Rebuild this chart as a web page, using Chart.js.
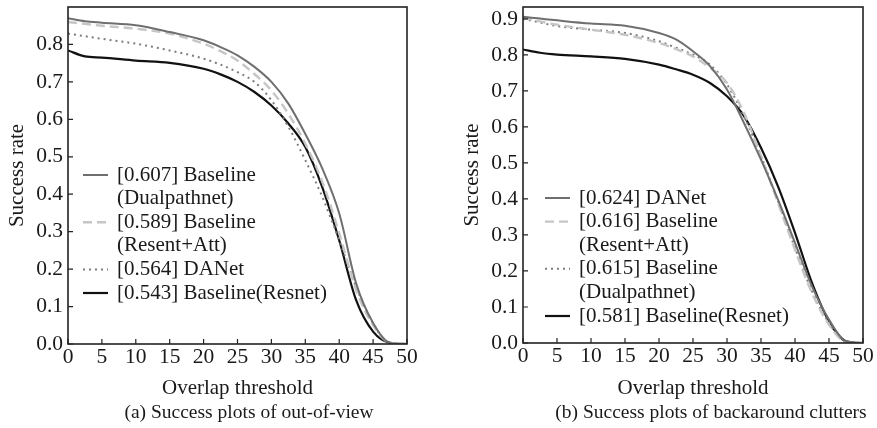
<!DOCTYPE html>
<html>
<head>
<meta charset="utf-8">
<script src="https://cdn.jsdelivr.net/npm/chart.js@4.4.0/dist/chart.umd.min.js"></script>
<style>
  body { margin: 0; background: #fff; }
  #wrap { position: relative; width: 877px; height: 428px; }
  .box { position: absolute; top: 0; height: 428px; }
</style>
</head>
<body>
<div id="wrap">
  <div class="box" style="left:0;width:440px"><canvas id="chartA"></canvas></div>
  <div class="box" style="left:440px;width:437px"><canvas id="chartB"></canvas></div>
</div>
<script>
// overlap thresholds (x axis)
var thresholds = [0, 2.5, 5, 10, 15, 20, 22.5, 25, 27.5, 30, 32.5, 35, 37.5, 40, 42.5, 45, 47.5, 50];
var xTicks = [0, 5, 10, 15, 20, 25, 30, 35, 40, 45, 50];
var yTicksA = [0, 0.1, 0.2, 0.3, 0.4, 0.5, 0.6, 0.7, 0.8];
var yTicksB = [0, 0.1, 0.2, 0.3, 0.4, 0.5, 0.6, 0.7, 0.8, 0.9];

// (a) out-of-view
var outDualpath = [0.870, 0.862, 0.858, 0.851, 0.833, 0.811, 0.793, 0.771, 0.740, 0.700, 0.642, 0.561, 0.469, 0.349, 0.162, 0.056, 0.003, 0];
var outResAtt   = [0.860, 0.855, 0.850, 0.842, 0.829, 0.802, 0.782, 0.757, 0.721, 0.677, 0.615, 0.535, 0.433, 0.296, 0.144, 0.050, 0.003, 0];
var outDANet    = [0.829, 0.822, 0.815, 0.802, 0.784, 0.762, 0.746, 0.726, 0.700, 0.651, 0.580, 0.491, 0.393, 0.277, 0.152, 0.055, 0.002, 0];
var outResnet   = [0.784, 0.768, 0.765, 0.757, 0.751, 0.735, 0.720, 0.700, 0.673, 0.637, 0.589, 0.526, 0.419, 0.277, 0.117, 0.033, 0.003, 0];

// (b) background clutters
var bgDANet     = [0.906, 0.901, 0.896, 0.887, 0.881, 0.861, 0.843, 0.810, 0.769, 0.704, 0.611, 0.509, 0.398, 0.278, 0.157, 0.065, 0.005, 0];
var bgResAtt    = [0.903, 0.893, 0.884, 0.870, 0.856, 0.833, 0.816, 0.796, 0.764, 0.722, 0.639, 0.519, 0.389, 0.259, 0.139, 0.051, 0.003, 0];
var bgDualpath  = [0.900, 0.890, 0.880, 0.870, 0.861, 0.838, 0.820, 0.801, 0.773, 0.718, 0.630, 0.519, 0.394, 0.264, 0.144, 0.056, 0.002, 0];
var bgResnet    = [0.815, 0.806, 0.801, 0.796, 0.789, 0.773, 0.760, 0.745, 0.722, 0.685, 0.630, 0.542, 0.435, 0.306, 0.167, 0.060, 0.005, 0];

var FONT = '"Liberation Serif", "Times New Roman", serif';
var INK = '#1a1a1a';

var styles = {
  solid:  { borderColor: '#6f6f6f', borderWidth: 2,   borderDash: [] },
  dashed: { borderColor: '#c6c6c6', borderWidth: 2.4, borderDash: [9, 5] },
  dotted: { borderColor: '#7c7c7c', borderWidth: 2,   borderDash: [2, 4] },
  black:  { borderColor: '#111111', borderWidth: 2.2, borderDash: [] }
};

function series(label, values, style) {
  var s = styles[style];
  return {
    label: label,
    data: thresholds.map(function(t, i) { return { x: t, y: values[i] }; }),
    borderColor: s.borderColor,
    borderWidth: s.borderWidth,
    borderDash: s.borderDash,
    pointRadius: 0,
    fill: false,
    cubicInterpolationMode: 'monotone'
  };
}

// frame, inward ticks, legend and caption
var paperFrame = {
  id: 'paperFrame',
  afterDraw: function(chart, args, opts) {
    var ctx = chart.ctx;
    var a = chart.chartArea;
    var xs = chart.scales.x, ys = chart.scales.y;
    ctx.save();
    ctx.strokeStyle = '#222';
    ctx.lineWidth = 1.6;
    ctx.strokeRect(a.left, a.top, a.right - a.left, a.bottom - a.top);
    ctx.lineWidth = 1.2;
    ctx.beginPath();
    xs.ticks.forEach(function(t) {
      var px = xs.getPixelForValue(t.value);
      ctx.moveTo(px, a.bottom);
      ctx.lineTo(px, a.bottom - 5);
    });
    ys.ticks.forEach(function(t) {
      var py = ys.getPixelForValue(t.value);
      ctx.moveTo(a.left, py);
      ctx.lineTo(a.left + 5, py);
    });
    ctx.stroke();

    ctx.font = '21px ' + FONT;
    ctx.textBaseline = 'middle';
    ctx.fillStyle = INK;
    var lx = a.left + opts.legendX;
    var y = opts.legendY;
    chart.data.datasets.forEach(function(ds) {
      ctx.strokeStyle = ds.borderColor;
      ctx.lineWidth = ds.borderWidth;
      ctx.setLineDash(ds.borderDash);
      ctx.beginPath();
      ctx.moveTo(lx, y);
      ctx.lineTo(lx + 25, y);
      ctx.stroke();
      ctx.setLineDash([]);
      [].concat(ds.label).forEach(function(line) {
        ctx.fillText(line, lx + 34, y);
        y += 23.6;
      });
    });

    ctx.textAlign = 'center';
    ctx.font = '19.5px ' + FONT;
    ctx.fillText(opts.caption, opts.captionX, opts.captionY);
    ctx.restore();
  }
};

function makeChart(id, datasets, yMax, yTicks, yWidth, xHeight, pad, yTitlePad, frame) {
  return new Chart(document.getElementById(id), {
    type: 'line',
    data: { datasets: datasets },
    options: {
      responsive: true,
      maintainAspectRatio: false,
      animation: false,
      layout: { padding: pad },
      plugins: {
        legend: { display: false },
        tooltip: { enabled: false },
        paperFrame: frame
      },
      scales: {
        x: {
          type: 'linear',
          min: 0,
          max: 50,
          grid: { display: false, drawTicks: false, tickLength: 0 },
          border: { display: false },
          afterBuildTicks: function(s) { s.ticks = xTicks.map(function(v) { return { value: v }; }); },
          afterFit: function(s) { s.height = xHeight; s.paddingLeft = 0; s.paddingRight = 0; },
          ticks: {
            autoSkip: false, maxRotation: 0, padding: 0,
            color: INK, font: { family: FONT, size: 21.5 }
          },
          title: {
            display: true, text: 'Overlap threshold', color: INK,
            font: { family: FONT, size: 21, lineHeight: 1 }, padding: 0
          }
        },
        y: {
          min: 0,
          max: yMax,
          grid: { display: false, drawTicks: false, tickLength: 0 },
          border: { display: false },
          afterBuildTicks: function(s) { s.ticks = yTicks.map(function(v) { return { value: v }; }); },
          afterFit: function(s) { s.width = yWidth; s.paddingTop = 0; s.paddingBottom = 0; },
          ticks: {
            padding: 5, color: INK, font: { family: FONT, size: 21.5 },
            callback: function(v) { return Number(v).toFixed(1); }
          },
          title: {
            display: true, text: 'Success rate', color: INK,
            font: { family: FONT, size: 21, lineHeight: 1 }, padding: { top: yTitlePad, bottom: 0 }
          }
        }
      }
    },
    plugins: [paperFrame]
  });
}

makeChart('chartA', [
  series(['[0.607] Baseline', '(Dualpathnet)'], outDualpath, 'solid'),
  series(['[0.589] Baseline', '(Resent+Att)'], outResAtt, 'dashed'),
  series(['[0.564] DANet'], outDANet, 'dotted'),
  series(['[0.543] Baseline(Resnet)'], outResnet, 'black')
], 0.9, yTicksA, 68, 55, { top: 7, right: 33, bottom: 29, left: 0 }, 7,
  { legendX: 15, legendY: 175, caption: '(a) Success plots of out-of-view', captionX: 249, captionY: 413 });

makeChart('chartB', [
  series(['[0.624] DANet'], bgDANet, 'solid'),
  series(['[0.616] Baseline', '(Resent+Att)'], bgResAtt, 'dashed'),
  series(['[0.615] Baseline', '(Dualpathnet)'], bgDualpath, 'dotted'),
  series(['[0.581] Baseline(Resnet)'], bgResnet, 'black')
], 0.933, yTicksB, 83, 56, { top: 7, right: 14, bottom: 29, left: 0 }, 22,
  { legendX: 22, legendY: 198, caption: '(b) Success plots of backaround clutters', captionX: 271, captionY: 413 });
</script>
</body>
</html>
